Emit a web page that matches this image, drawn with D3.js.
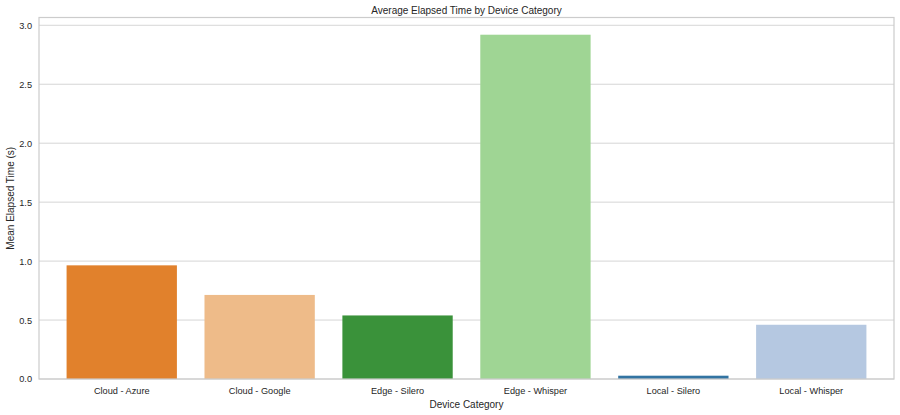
<!DOCTYPE html>
<html>
<head>
<meta charset="utf-8">
<script src="https://cdn.jsdelivr.net/npm/d3@7"></script>
<style>
  body { margin: 0; background: #fff; }
  text { font-family: "Liberation Sans", Arial, sans-serif; fill: #262626; }
</style>
</head>
<body>
<div id="chart"></div>
<script>
// Chart size
const width = 900;
const height = 415;
const margin = { top: 17.5, right: 6, bottom: 36, left: 39 };

// Data
const categories = ["Cloud - Azure", "Cloud - Google", "Edge - Silero", "Edge - Whisper", "Local - Silero", "Local - Whisper"];
const meanTimes = [0.964, 0.713, 0.539, 2.92, 0.028, 0.46];
const yTicks = [0, 0.5, 1.0, 1.5, 2.0, 2.5, 3.0];
const barColors = ["#e1812c", "#eebb89", "#3a923a", "#9fd594", "#3274a2", "#b5c8e1"];

const svg = d3
  .select("#chart")
  .append("svg")
  .attr("width", width)
  .attr("height", height);

const innerW = width - margin.left - margin.right;
const innerH = height - margin.top - margin.bottom;

const g = svg.append("g").attr("transform", `translate(${margin.left},${margin.top})`);

const x = d3.scaleBand().domain(categories).range([0, innerW]).padding(0.2);
const y = d3.scaleLinear().domain([0, d3.max(meanTimes) * 1.05]).range([innerH, 0]);

// Grid lines
g.append("g")
  .selectAll("line")
  .data(yTicks)
  .enter()
  .append("line")
  .attr("x1", 0)
  .attr("x2", innerW)
  .attr("y1", (d) => y(d))
  .attr("y2", (d) => y(d))
  .attr("stroke", "#d6d6d6")
  .attr("stroke-width", 1);

// Bars
g.selectAll(".bar")
  .data(meanTimes)
  .enter()
  .append("rect")
  .attr("class", "bar")
  .attr("x", (d, i) => x(categories[i]))
  .attr("width", x.bandwidth())
  .attr("y", (d) => y(d))
  .attr("height", (d) => innerH - y(d))
  .attr("fill", (d, i) => barColors[i]);

// Frame
g.append("rect")
  .attr("x", 0)
  .attr("y", 0)
  .attr("width", innerW)
  .attr("height", innerH)
  .attr("fill", "none")
  .attr("stroke", "#cccccc")
  .attr("stroke-width", 1.2);

// Axes
const yAxis = g.append("g").call(d3.axisLeft(y).tickValues(yTicks).tickFormat(d3.format(".1f")).tickSize(0).tickPadding(7));
yAxis.select(".domain").remove();
yAxis.selectAll("text").style("font-size", "9.2px").style("fill", "#262626");

const xAxis = g.append("g")
  .attr("transform", `translate(0,${innerH})`)
  .call(d3.axisBottom(x).tickSize(0).tickPadding(8));
xAxis.select(".domain").remove();
xAxis.selectAll("text").style("font-size", "9.2px").style("fill", "#262626");

// Title and labels
svg.append("text")
  .attr("x", margin.left + innerW / 2)
  .attr("y", 13.5)
  .attr("text-anchor", "middle")
  .style("font-size", "10px")
  .text("Average Elapsed Time by Device Category");

svg.append("text")
  .attr("x", margin.left + innerW / 2)
  .attr("y", 408)
  .attr("text-anchor", "middle")
  .style("font-size", "10px")
  .text("Device Category");

svg.append("text")
  .attr("transform", `translate(14,${margin.top + innerH / 2}) rotate(-90)`)
  .attr("text-anchor", "middle")
  .style("font-size", "10px")
  .text("Mean Elapsed Time (s)");
</script>
</body>
</html>
